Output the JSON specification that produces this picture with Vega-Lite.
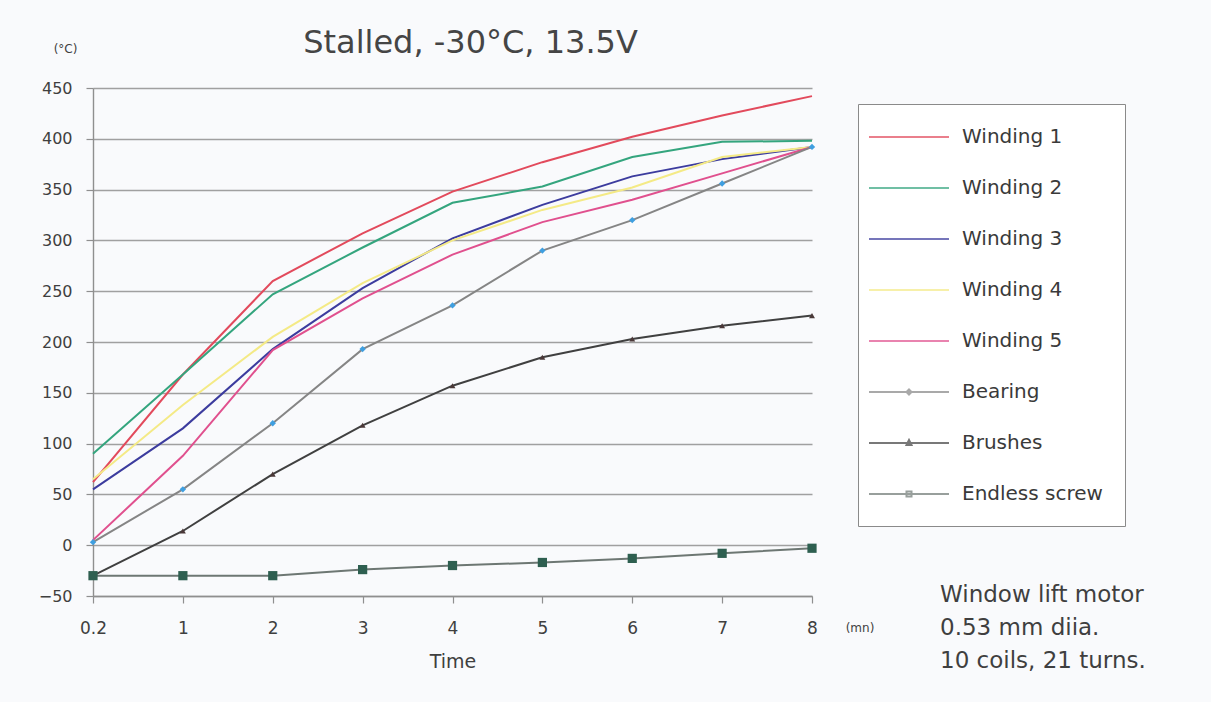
{
  "$schema": "https://vega.github.io/schema/vega-lite/v6.json",
  "width": 719,
  "height": 508,
  "autosize": {"type": "none"},
  "padding": {"left": 93, "top": 88, "right": 399, "bottom": 106},
  "background": "#f9fafc",
  "title": {"text": "Stalled, -30°C, 13.5V", "font": "DejaVu Sans", "fontSize": 32, "fontWeight": "normal", "color": "#454545", "anchor": "middle", "frame": "group", "dx": 18, "offset": -18},
  "config": {
    "view": {"stroke": null},
    "axis": {"labelFont": "DejaVu Sans", "labelColor": "#3f3f3f", "titleFont": "DejaVu Sans", "titleColor": "#3f3f3f", "titleFontWeight": "normal", "gridColor": "#a0a0a0", "gridWidth": 1.4, "domainColor": "#8f8f8f", "domainWidth": 1.4, "tickColor": "#8f8f8f", "tickWidth": 1.2},
    "legend": {"labelFont": "DejaVu Sans", "labelFontSize": 20, "labelColor": "#3a3a3a", "strokeColor": "#8a8a8a", "fillColor": "#ffffff", "padding": 22, "symbolSize": 400, "symbolStrokeWidth": 2, "rowPadding": 30, "labelOffset": 60}
  },
  "datasets": {
    "temps": [
      {"t": "0.2", "series": "Winding 1", "v": 62}, {"t": "1", "series": "Winding 1", "v": 168}, {"t": "2", "series": "Winding 1", "v": 260}, {"t": "3", "series": "Winding 1", "v": 307}, {"t": "4", "series": "Winding 1", "v": 348}, {"t": "5", "series": "Winding 1", "v": 377}, {"t": "6", "series": "Winding 1", "v": 402}, {"t": "7", "series": "Winding 1", "v": 423}, {"t": "8", "series": "Winding 1", "v": 442},
      {"t": "0.2", "series": "Winding 2", "v": 90}, {"t": "1", "series": "Winding 2", "v": 168}, {"t": "2", "series": "Winding 2", "v": 247}, {"t": "3", "series": "Winding 2", "v": 293}, {"t": "4", "series": "Winding 2", "v": 337}, {"t": "5", "series": "Winding 2", "v": 353}, {"t": "6", "series": "Winding 2", "v": 382}, {"t": "7", "series": "Winding 2", "v": 397}, {"t": "8", "series": "Winding 2", "v": 398},
      {"t": "0.2", "series": "Winding 3", "v": 55}, {"t": "1", "series": "Winding 3", "v": 115}, {"t": "2", "series": "Winding 3", "v": 193}, {"t": "3", "series": "Winding 3", "v": 253}, {"t": "4", "series": "Winding 3", "v": 302}, {"t": "5", "series": "Winding 3", "v": 335}, {"t": "6", "series": "Winding 3", "v": 363}, {"t": "7", "series": "Winding 3", "v": 380}, {"t": "8", "series": "Winding 3", "v": 392},
      {"t": "0.2", "series": "Winding 4", "v": 65}, {"t": "1", "series": "Winding 4", "v": 138}, {"t": "2", "series": "Winding 4", "v": 205}, {"t": "3", "series": "Winding 4", "v": 258}, {"t": "4", "series": "Winding 4", "v": 300}, {"t": "5", "series": "Winding 4", "v": 330}, {"t": "6", "series": "Winding 4", "v": 352}, {"t": "7", "series": "Winding 4", "v": 382}, {"t": "8", "series": "Winding 4", "v": 392},
      {"t": "0.2", "series": "Winding 5", "v": 5}, {"t": "1", "series": "Winding 5", "v": 88}, {"t": "2", "series": "Winding 5", "v": 192}, {"t": "3", "series": "Winding 5", "v": 243}, {"t": "4", "series": "Winding 5", "v": 286}, {"t": "5", "series": "Winding 5", "v": 318}, {"t": "6", "series": "Winding 5", "v": 340}, {"t": "7", "series": "Winding 5", "v": 366}, {"t": "8", "series": "Winding 5", "v": 392},
      {"t": "0.2", "series": "Bearing", "v": 3}, {"t": "1", "series": "Bearing", "v": 55}, {"t": "2", "series": "Bearing", "v": 120}, {"t": "3", "series": "Bearing", "v": 193}, {"t": "4", "series": "Bearing", "v": 236}, {"t": "5", "series": "Bearing", "v": 290}, {"t": "6", "series": "Bearing", "v": 320}, {"t": "7", "series": "Bearing", "v": 356}, {"t": "8", "series": "Bearing", "v": 392},
      {"t": "0.2", "series": "Brushes", "v": -30}, {"t": "1", "series": "Brushes", "v": 14}, {"t": "2", "series": "Brushes", "v": 70}, {"t": "3", "series": "Brushes", "v": 118}, {"t": "4", "series": "Brushes", "v": 157}, {"t": "5", "series": "Brushes", "v": 185}, {"t": "6", "series": "Brushes", "v": 203}, {"t": "7", "series": "Brushes", "v": 216}, {"t": "8", "series": "Brushes", "v": 226},
      {"t": "0.2", "series": "Endless screw", "v": -30}, {"t": "1", "series": "Endless screw", "v": -30}, {"t": "2", "series": "Endless screw", "v": -30}, {"t": "3", "series": "Endless screw", "v": -24}, {"t": "4", "series": "Endless screw", "v": -20}, {"t": "5", "series": "Endless screw", "v": -17}, {"t": "6", "series": "Endless screw", "v": -13}, {"t": "7", "series": "Endless screw", "v": -8}, {"t": "8", "series": "Endless screw", "v": -3}
    ],
    "unit": [{"t": "8", "v": -50, "label": "(mn)"}],
    "notes": [{"t": "8", "v": -50, "label": "Window lift motor\n0.53 mm  diia.\n10 coils, 21 turns."}]
  },
  "encoding": {
    "x": {"field": "t", "type": "ordinal", "sort": ["0.2", "1", "2", "3", "4", "5", "6", "7", "8"], "scale": {"type": "point", "padding": 0, "domain": ["0.2", "1", "2", "3", "4", "5", "6", "7", "8"]}, "axis": {"title": "Time", "titleFontSize": 19, "titlePadding": 16, "labelAngle": 0, "labelFontSize": 17, "labelPadding": 17, "tickSize": 7, "grid": false}},
    "y": {"field": "v", "type": "quantitative", "scale": {"domain": [-50, 450], "nice": false, "zero": false}, "axis": {"title": "(°C)", "titleAngle": 0, "titleFontSize": 12, "titleX": -28, "titleY": -40, "titleAlign": "center", "titleBaseline": "middle", "values": [-50, 0, 50, 100, 150, 200, 250, 300, 350, 400, 450], "labelFontSize": 16, "labelPadding": 14, "tickSize": 7, "domain": true}}
  },
  "layer": [
    {
      "data": {"name": "temps"},
      "mark": {"type": "line", "strokeWidth": 2},
      "encoding": {
        "color": {"field": "series", "type": "nominal", "sort": null, "scale": {"domain": ["Winding 1", "Winding 2", "Winding 3", "Winding 4", "Winding 5", "Bearing", "Brushes", "Endless screw"], "range": ["#e24a5c", "#34a57e", "#3c3c9e", "#f4ea86", "#e0508e", "#858585", "#404040", "#6d7773"]}, "legend": {"title": null, "orient": "none", "legendX": 765, "legendY": 16}}
      }
    },
    {
      "data": {"name": "temps"},
      "transform": [{"filter": "datum.v > 10000"}],
      "mark": {"type": "point", "strokeWidth": 2, "filled": false},
      "encoding": {
        "color": {"field": "series", "type": "nominal", "sort": null, "legend": {"title": null, "orient": "none", "legendX": 765, "legendY": 16}},
        "shape": {"field": "series", "type": "nominal", "sort": null, "scale": {"domain": ["Winding 1", "Winding 2", "Winding 3", "Winding 4", "Winding 5", "Bearing", "Brushes", "Endless screw"], "range": ["M-2.2,0H5.8", "M-2.2,0H5.8", "M-2.2,0H5.8", "M-2.2,0H5.8", "M-2.2,0H5.8", "M-2.2,0H5.8M1.8,-0.25L2.05,0L1.8,0.25L1.55,0Z", "M-2.2,0H5.8M1.8,-0.3L2.05,0.2H1.55Z", "M-2.2,0H5.8M1.55,-0.25H2.05V0.25H1.55Z"]}, "legend": {"title": null, "orient": "none", "legendX": 765, "legendY": 16}}
      }
    },
    {
      "data": {"name": "temps"},
      "transform": [{"filter": "datum.series == 'Bearing'"}],
      "mark": {"type": "point", "shape": "diamond", "filled": true, "opacity": 1, "strokeWidth": 0, "fill": "#3f9fe0", "size": 40}
    },
    {
      "data": {"name": "temps"},
      "transform": [{"filter": "datum.series == 'Brushes'"}],
      "mark": {"type": "point", "shape": "triangle-up", "filled": true, "opacity": 1, "strokeWidth": 0, "fill": "#4a3838", "size": 35}
    },
    {
      "data": {"name": "temps"},
      "transform": [{"filter": "datum.series == 'Endless screw'"}],
      "mark": {"type": "point", "shape": "square", "filled": true, "opacity": 1, "strokeWidth": 0, "fill": "#2e5f50", "size": 85}
    },
    {
      "data": {"name": "unit"},
      "mark": {"type": "text", "font": "DejaVu Sans", "fontSize": 12, "color": "#3f3f3f", "align": "center", "baseline": "middle", "dx": 48, "dy": 32},
      "encoding": {"text": {"field": "label"}}
    },
    {
      "data": {"name": "notes"},
      "mark": {"type": "text", "font": "DejaVu Sans", "fontSize": 23, "color": "#3f3f3f", "align": "left", "baseline": "top", "lineBreak": "\n", "lineHeight": 33, "dx": 128, "dy": -12},
      "encoding": {"text": {"field": "label"}}
    }
  ]
}
